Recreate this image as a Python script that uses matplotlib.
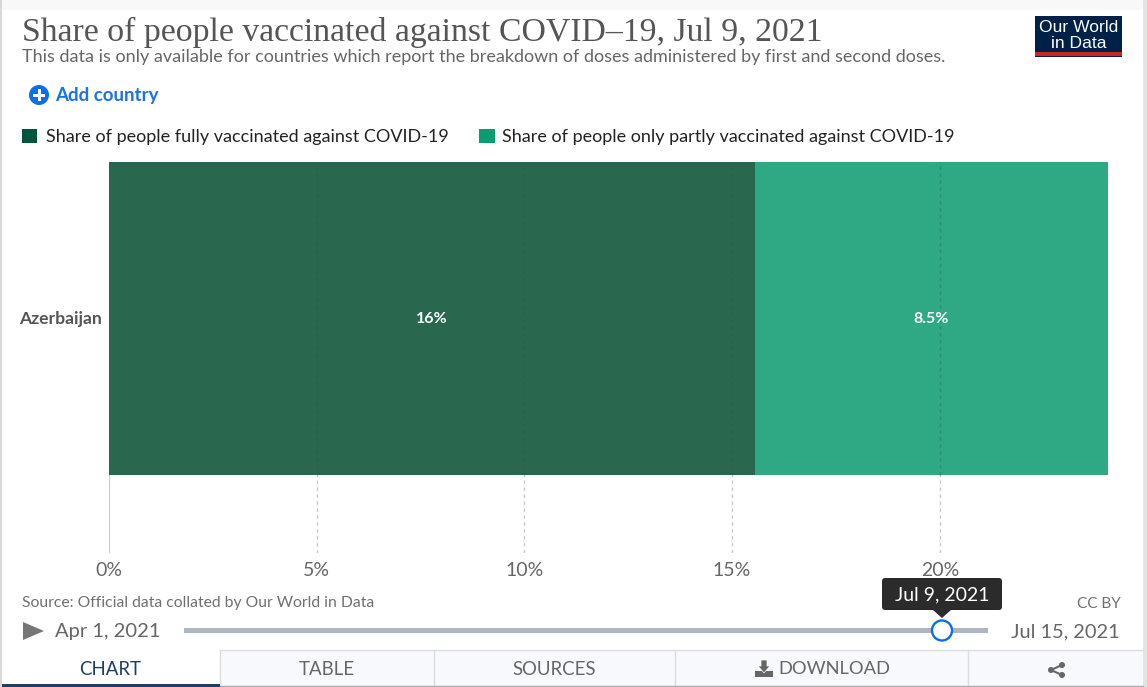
import matplotlib
matplotlib.use('Agg')
import matplotlib.pyplot as plt
from matplotlib.patches import Rectangle, FancyBboxPatch, Polygon, Circle

W, H = 1147, 687

countries = ['Azerbaijan']
fully_vaccinated = [15.55]
partly_vaccinated = [8.5]
fully_label = '16%'
partly_label = '8.5%'
x_ticks = [0, 5, 10, 15, 20]
x_tick_labels = ['0%', '5%', '10%', '15%', '20%']
tabs = ['CHART', 'TABLE', 'SOURCES', 'DOWNLOAD']

plt.rcParams['font.family'] = ['Lato', 'DejaVu Sans']

fig = plt.figure(figsize=(W / 100, H / 100), dpi=100, facecolor='white')

# overlay in pixel coords for the page furniture (y goes down like the screenshot)
page = fig.add_axes([0, 0, 1, 1], zorder=3)
page.set_xlim(0, W)
page.set_ylim(H, 0)
page.axis('off')
page.patch.set_alpha(0)

# plot area
left, right = 109, 1108
top, bottom = 162, 553
ax = fig.add_axes([left / W, 1 - bottom / H, (right - left) / W, (bottom - top) / H], zorder=2)
ax.patch.set_alpha(0)
ax.set_xlim(0, 24.05)
# bar spans 162-475 out of 162-553
ax.set_ylim(0.749, -0.5)
ax.barh(countries, fully_vaccinated, height=1.0, color='#29674f', zorder=1)
ax.barh(countries, partly_vaccinated, left=fully_vaccinated, height=1.0, color='#2fa984', zorder=1)
for x in x_ticks[1:]:
    ax.axvline(x, color='#c9c9c9', lw=1.0, ls=(0, (2.5, 2.5)), zorder=0)
    # grid shows faintly through the bars
    ax.axvline(x, ymin=0.2, color='#1c5a44', lw=1.0, ls=(0, (2.5, 2.5)), alpha=0.3, zorder=2)
ax.axvline(0, color='#c9c9c9', lw=1.6, zorder=0)
for s in ax.spines.values():
    s.set_visible(False)
ax.set_xticks(x_ticks)
ax.set_xticklabels(x_tick_labels, fontsize=14, color='#666666')
ax.tick_params(axis='x', length=0, pad=6.5)
ax.tick_params(axis='y', length=0, pad=5)
ax.set_yticks([0])
ax.set_yticklabels(countries, fontsize=12.6, fontweight='bold', color='#555555', va='center')
ax.text(fully_vaccinated[0] / 2, 0, fully_label, color='white', fontsize=11.5,
        fontweight='bold', ha='center', va='center')
ax.text(fully_vaccinated[0] + partly_vaccinated[0] / 2, 0, partly_label, color='white', fontsize=11.5,
        fontweight='bold', ha='center', va='center')

# borders of the frame
page.add_patch(Rectangle((0, 0), 2, H, color='#d8d8d8', lw=0))
page.add_patch(Rectangle((1143, 0), 4, H, color='#e4e4e4', lw=0))
page.add_patch(Rectangle((0, 0), W, 10, color='#f8f8f8', lw=0, zorder=0))

# header
page.text(22, 32, 'Share of people vaccinated against COVID\u201319, Jul 9, 2021',
          family='Liberation Serif', fontsize=24.3, color='#555555', va='center', ha='left')
page.text(22, 57, 'This data is only available for countries which report the breakdown of doses '
          'administered by first and second doses.', fontsize=13, color='#666666', va='center')

# logo
page.add_patch(Rectangle((1035, 16), 87, 41, color='#002147', lw=0))
page.add_patch(Rectangle((1035, 52), 87, 4, color='#ce261e', lw=0))
page.text(1078.5, 27.5, 'Our World', family='Liberation Sans', fontsize=12.6, color='white', ha='center', va='center')
page.text(1078.5, 43, 'in Data', family='Liberation Sans', fontsize=12.6, color='white', ha='center', va='center')

# add country button
page.add_patch(Circle((39, 95), 10, color='#0d6fe8', lw=0))
page.add_patch(Rectangle((33, 93.5), 12, 3, color='white', lw=0))
page.add_patch(Rectangle((37.5, 89), 3, 12, color='white', lw=0))
page.text(55, 95, 'Add country', fontsize=13.5, fontweight='bold', color='#1a73e8', va='center')

# legend
page.add_patch(Rectangle((22, 129), 15, 14, color='#00533c', lw=0))
page.text(46, 137, 'Share of people fully vaccinated against COVID-19', fontsize=13, color='#222222', va='center')
page.add_patch(Rectangle((479, 129), 16, 14, color='#0b9c71', lw=0))
page.text(502, 137, 'Share of people only partly vaccinated against COVID-19', fontsize=13, color='#222222', va='center')

# footer
page.text(22, 603.5, 'Source: Official data collated by Our World in Data', fontsize=11.35, color='#707070', va='center')
page.text(1121, 603.5, 'CC BY', fontsize=11.1, color='#707070', va='center', ha='right')

# timeline
page.add_patch(Polygon([(23, 622), (44, 631), (23, 640)], color='#777777', lw=0))
page.text(55, 631.5, 'Apr 1, 2021', fontsize=14.5, color='#666666', va='center')
page.text(1120, 631.5, 'Jul 15, 2021', fontsize=14.4, color='#666666', va='center', ha='right')
page.add_patch(Rectangle((184, 628), 804, 5, color='#aeb6c4', lw=0))
page.add_patch(Circle((942, 630.5), 10, facecolor='white', edgecolor='#0d6fe8', lw=1.7, zorder=5))
page.add_patch(FancyBboxPatch((882, 578), 120, 32, boxstyle='round,pad=0,rounding_size=3', color='#2b2b2b', lw=0, zorder=5))
page.add_patch(Polygon([(933, 610), (951, 610), (942, 618)], color='#2b2b2b', lw=0, zorder=5))
page.text(942, 594.5, 'Jul 9, 2021', fontsize=14, color='white', va='center', ha='center', zorder=6)

# tabs
tab_edges = [0, 220, 434, 675, 968, 1143]
page.add_patch(Rectangle((220, 650), 923, 36, facecolor='#f8f9fd', edgecolor='none', zorder=1))
page.plot([220, 1143], [649.5, 649.5], color='#dddddd', lw=1, zorder=2)
for e in tab_edges[1:-1]:
    page.plot([e, e], [650, 686], color='#dddddd', lw=1, zorder=2)
page.add_patch(Rectangle((2, 684), 218, 2.5, color='#1d3d63', lw=0, zorder=2))
page.plot([220, 1143], [686.3, 686.3], color='#aaaaaa', lw=1, zorder=2)
page.text(110, 669.5, tabs[0], fontsize=13.4, color='#1d3d63', ha='center', va='center')
page.text(327, 669.5, tabs[1], fontsize=13.4, color='#666666', ha='center', va='center')
page.text(554, 669.5, tabs[2], fontsize=13.4, color='#666666', ha='center', va='center')
page.text(834, 669.5, tabs[3], fontsize=13.2, color='#666666', ha='center', va='center')

# download icon
page.add_patch(Rectangle((755, 671), 18, 6, color='#666666', lw=0, zorder=3))
page.add_patch(Polygon([(758, 666), (764, 673), (770, 666), (767, 666), (767, 660), (761, 660), (761, 666)],
                       color='#666666', ec='white', lw=0.5, zorder=3))

# share icon
page.plot([1062, 1051, 1062], [665, 670, 675], color='#666666', lw=1.5, zorder=3)
for cx, cy in [(1062, 665), (1051, 670), (1062, 675)]:
    page.add_patch(Circle((cx, cy), 3, color='#666666', lw=0, zorder=3))

fig.savefig('out.png', dpi=100)
